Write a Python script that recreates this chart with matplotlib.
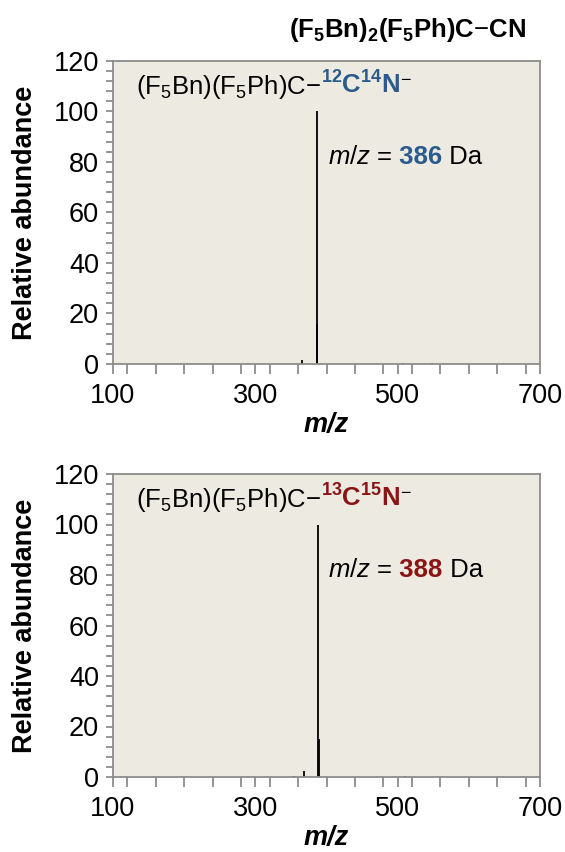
import matplotlib
matplotlib.use("Agg")
import matplotlib.pyplot as plt
from matplotlib.offsetbox import TextArea, HPacker, AnnotationBbox
from matplotlib.ticker import MultipleLocator

plt.rcParams['font.family'] = ['Liberation Sans', 'DejaVu Sans']
plt.rcParams['mathtext.fontset'] = 'custom'
plt.rcParams['mathtext.rm'] = 'Liberation Sans'
plt.rcParams['mathtext.it'] = 'Liberation Sans:italic'
plt.rcParams['mathtext.bf'] = 'Liberation Sans:bold'

# espectros (m/z, abundancia relativa)
mz_12 = [366, 386, 387, 507, 548]
ab_12 = [1.5, 100, 16, 0.5, 0.5]
mz_13 = [355, 369, 388, 389, 510]
ab_13 = [0.5, 2.3, 100, 15, 0.5]

titulo = r'(F$_\mathbf{5}$Bn)$_\mathbf{2}$(F$_\mathbf{5}$Ph)C$-$CN'
massas = ['386', '388']
isotopos = [('12', '14'), ('13', '15')]
cores = ['#2B5A8C', '#8B1414']

fundo = '#EDEBE1'
cinza = '#8C8C8C'

fig = plt.figure(figsize=(5.65, 8.52), dpi=100)
ax1 = fig.add_axes([113/565, 1-364/852, 427/565, 303/852])
ax2 = fig.add_axes([113/565, 1-777/852, 427/565, 303/852])

def desenhar(ax, mz, ab, massa, iso, cor):
    ax.set_facecolor(fundo)
    ax.vlines(mz, 0, ab, color='black', linewidth=1.3)
    ax.set_xlim(100, 700)
    ax.set_ylim(0, 120)
    ax.set_xticks([100, 300, 500, 700])
    ax.xaxis.set_minor_locator(MultipleLocator(40))
    ax.yaxis.set_major_locator(MultipleLocator(20))
    ax.yaxis.set_minor_locator(MultipleLocator(4))
    for s in ax.spines.values():
        s.set_color(cinza)
        s.set_linewidth(1.3)
    ax.tick_params(axis='both', which='both', color=cinza, width=1.3, labelsize=19.5)
    ax.tick_params(axis='x', which='both', length=7, pad=7)
    ax.tick_params(axis='y', which='both', length=5, pad=5)
    ax.set_xlabel('m/z', fontsize=19.5, fontweight='bold', fontstyle='italic', labelpad=2)
    ax.set_ylabel('Relative abundance', fontsize=19.5, fontweight='bold', labelpad=11)

    # rotulo do ion
    t1 = TextArea(r'(F$_5$Bn)(F$_5$Ph)C$-$', textprops=dict(fontsize=18.5, color='black'))
    t2 = TextArea(r'$^{\mathbf{%s}}$C$^{\mathbf{%s}}$N' % iso,
                  textprops=dict(fontsize=18.5, color=cor, fontweight='bold'))
    t3 = TextArea(r'$^{-}$', textprops=dict(fontsize=18.5, color='black'))
    caixa = HPacker(children=[t1, t2, t3], align='baseline', pad=0, sep=0)
    ab1 = AnnotationBbox(caixa, (132, 110), xycoords='data', box_alignment=(0, 0.5),
                         frameon=False, pad=0)
    ax.add_artist(ab1)

    # m/z
    m1 = TextArea(r'$\mathit{m/z}$ =', textprops=dict(fontsize=18.5, color='black'))
    m2 = TextArea(' ' + massa, textprops=dict(fontsize=18.5, color=cor, fontweight='bold'))
    m3 = TextArea(' Da', textprops=dict(fontsize=18.5, color='black'))
    caixa2 = HPacker(children=[m1, m2, m3], align='baseline', pad=0, sep=0)
    ab2 = AnnotationBbox(caixa2, (402, 82), xycoords='data', box_alignment=(0, 0.5),
                         frameon=False, pad=0)
    ax.add_artist(ab2)

desenhar(ax1, mz_12, ab_12, massas[0], isotopos[0], cores[0])
desenhar(ax2, mz_13, ab_13, massas[1], isotopos[1], cores[1])

fig.text(408/565, 1-30/852, titulo, fontsize=18.5, fontweight='bold', ha='center', va='center')

fig.savefig('out.png', dpi=100)
